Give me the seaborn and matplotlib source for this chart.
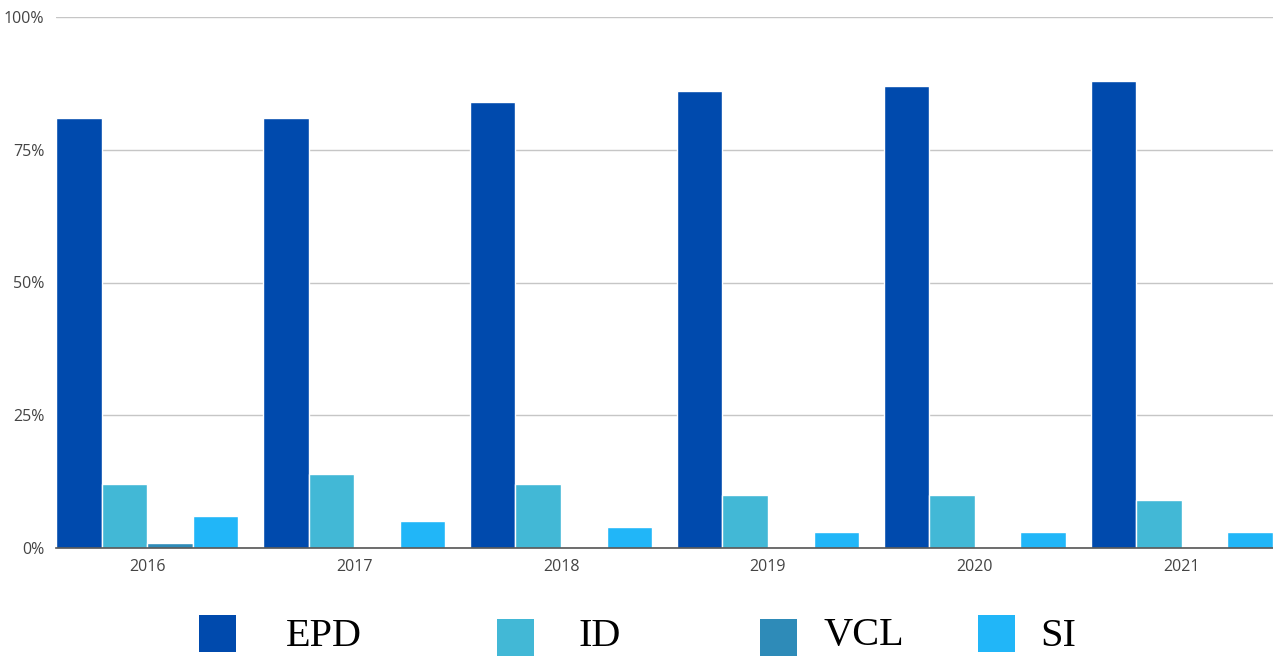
import matplotlib
matplotlib.use("Agg")
import matplotlib.pyplot as plt
from matplotlib.patches import Rectangle
from matplotlib.ticker import FixedLocator, FuncFormatter
import seaborn as sns
import pandas as pd

years = ["2016", "2017", "2018", "2019", "2020", "2021"]
series = ["EPD", "ID", "VCL", "SI"]
epd = [81, 81, 84, 86, 87, 88]
id_ = [12, 14, 12, 10, 10, 9]
vcl = [1, 0, 0, 0, 0, 0]
si = [6, 5, 4, 3, 3, 3]
colors = ["#004aad", "#42b8d6", "#2e8bb8", "#21b6f8"]
y_ticks = [0, 25, 50, 75, 100]

rows = []
for name, vals in zip(series, [epd, id_, vcl, si]):
    for yr, v in zip(years, vals):
        rows.append({"year": yr, "series": name, "value": v})
df = pd.DataFrame(rows)

sns.set_style("white")
plt.rcParams["font.family"] = ["Open Sans", "DejaVu Sans"]

W, H = 1273, 658
fig = plt.figure(figsize=(W / 100, H / 100), dpi=100)
ax = fig.add_axes([56 / W, (H - 548) / H, (W - 56) / W, (548 - 17) / H])

sns.barplot(data=df, x="year", y="value", hue="series", hue_order=series,
            palette=colors, saturation=1, width=0.88, edgecolor="white",
            linewidth=1, errorbar=None, legend=False, ax=ax, zorder=3)

ax.set_xlim(-0.44, 5.44)
ax.set_ylim(0, 100)
ax.yaxis.set_major_locator(FixedLocator(y_ticks))
ax.yaxis.set_major_formatter(FuncFormatter(lambda v, _: f"{int(v)}%"))
ax.grid(axis="y", color="#c6c6c6", linewidth=1, zorder=0)
ax.grid(axis="x", visible=False)
for s in ["top", "right", "left"]:
    ax.spines[s].set_visible(False)
ax.spines["bottom"].set_color("#555555")
ax.spines["bottom"].set_linewidth(1.2)
ax.spines["bottom"].set_zorder(4)
ax.tick_params(axis="both", length=0, labelsize=11.5, labelcolor="#444444")
ax.tick_params(axis="y", pad=8.5)
ax.tick_params(axis="x", pad=8)
ax.set_xlabel("")
ax.set_ylabel("")

# Legend along the bottom
legend_items = [
    ("EPD", 199, 615, 286),
    ("ID", 497, 619, 578),
    ("VCL", 760, 619, 823),
    ("SI", 978, 615, 1040),
]
for (label, sx, sy, tx), c in zip(legend_items, colors):
    fig.add_artist(Rectangle((sx / W, (H - sy - 37) / H), 37 / W, 37 / H,
                             transform=fig.transFigure, facecolor=c,
                             edgecolor="none"))
    fig.text(tx / W, (H - 636) / H, label, transform=fig.transFigure,
             ha="left", va="center", fontsize=29,
             family=["Liberation Serif", "DejaVu Serif"], color="black")

fig.savefig("out.png", dpi=100)
